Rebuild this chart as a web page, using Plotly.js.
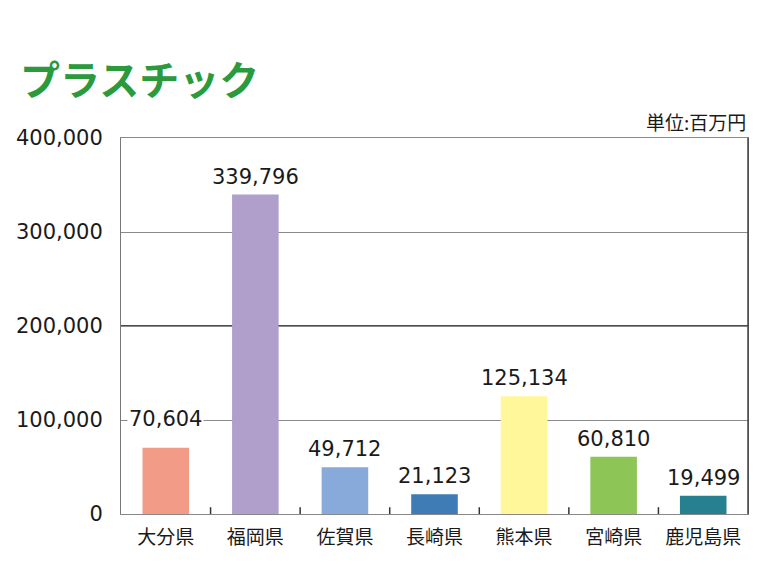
<!DOCTYPE html>
<html>
<head>
<meta charset="utf-8">
<script src="https://cdn.plot.ly/plotly-3.0.1.min.js"></script>
<style>html,body{margin:0;padding:0;background:#fff;}#chart{width:779px;height:584px;}</style>
</head>
<body>
<div id="chart"></div>
<script>
const categories = ["大分県", "福岡県", "佐賀県", "長崎県", "熊本県", "宮崎県", "鹿児島県"];
const values = [70604, 339796, 49712, 21123, 125134, 60810, 19499];
const barColors = ["#F29C87", "#B09FCB", "#88AADB", "#3F7BB5", "#FFF799", "#8DC556", "#26808F"];
const yTickVals = [0, 100000, 200000, 300000, 400000];
const yTickText = ["0", "100,000", "200,000", "300,000", "400,000"];
const labelShift = [15, 4, 4, 4, 4, 4, 4];

const numFont = "DejaVu Sans, Noto Sans CJK JP, sans-serif";
const jpFont = "Noto Sans CJK JP, sans-serif";

const fmt = v => v.toLocaleString("en-US");

const annotations = categories.map((c, i) => ({
  x: c, y: values[i], xref: "x", yref: "y",
  text: fmt(values[i]), showarrow: false,
  yanchor: "bottom", yshift: labelShift[i],
  bgcolor: "#ffffff", borderpad: 1,
  font: {family: numFont, size: 21, color: "#1a1a1a"}
}));
annotations.push({
  xref: "paper", yref: "paper", x: 1, y: 1, xanchor: "right", yanchor: "bottom",
  yshift: 1, text: "単位:百万円", showarrow: false,
  font: {family: jpFont, size: 19, color: "#1a1a1a"}
});

const trace = {
  type: "bar", x: categories, y: values,
  marker: {color: barColors, line: {width: 0}},
  width: 0.52, hoverinfo: "skip"
};

const layout = {
  width: 779, height: 584,
  paper_bgcolor: "#fff", plot_bgcolor: "#fff",
  margin: {l: 121, r: 31, t: 138, b: 70},
  showlegend: false,
  title: {
    text: "<b>プラスチック</b>", x: 20 / 779, xanchor: "left", xref: "container",
    y: 0.862, yanchor: "middle", yref: "container",
    font: {family: jpFont, size: 40, color: "#2A9A3C"}
  },
  xaxis: {
    type: "category", showline: true, linecolor: "#888", linewidth: 1,
    mirror: true, showgrid: false,
    ticks: "", tickfont: {family: jpFont, size: 19, color: "#1a1a1a"},
    ticklabelstandoff: 6, fixedrange: true
  },
  yaxis: {
    range: [0, 400000], tickvals: yTickVals, ticktext: yTickText,
    showgrid: true, gridcolor: "#8a8a8a", gridwidth: 1,
    showline: true, linecolor: "#777", linewidth: 1, mirror: true,
    ticks: "", ticklabelstandoff: 13,
    tickfont: {family: numFont, size: 21, color: "#1a1a1a"},
    zeroline: false, fixedrange: true
  },
  shapes: [
    {type: "line", xref: "paper", yref: "y", x0: 0, x1: 1, y0: 200000, y1: 200000,
     line: {color: "#111", width: 1.5}, layer: "below"},
    {type: "line", xref: "paper", yref: "paper", x0: 1, x1: 1, y0: 0, y1: 1,
     line: {color: "#444", width: 1.5}}
  ].concat(categories.slice(1).map((c, i) => ({
    type: "line", xref: "x", yref: "paper", x0: i + 0.5, x1: i + 0.5, y0: 0, y1: 0.018,
    line: {color: "#333", width: 1.5}
  }))),
  annotations: annotations
};

Plotly.newPlot("chart", [trace], layout, {staticPlot: true, displayModeBar: false});
</script>
</body>
</html>
